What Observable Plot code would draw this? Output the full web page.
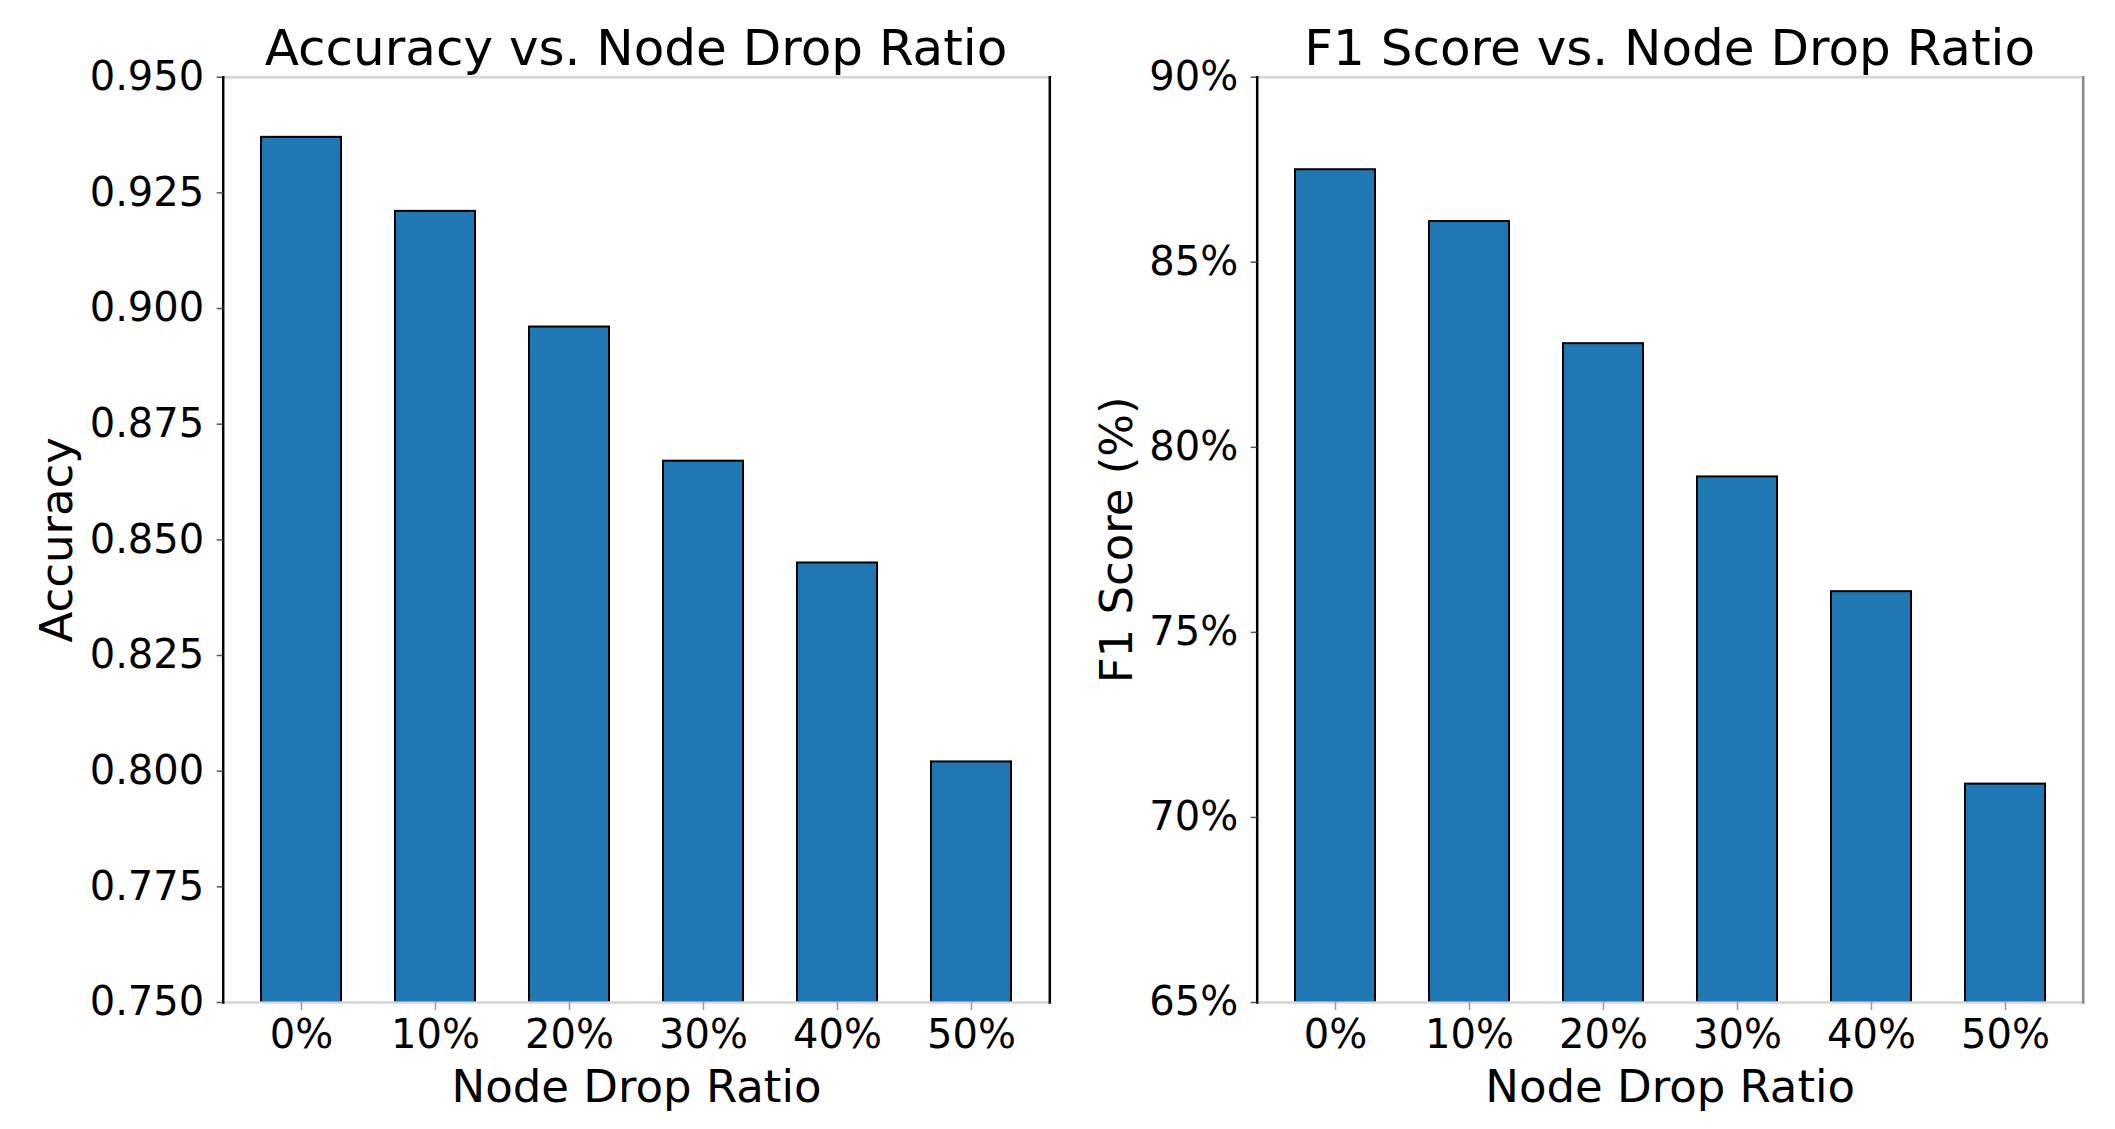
<!DOCTYPE html>
<html>
<head>
<meta charset="utf-8">
<script src="https://cdn.jsdelivr.net/npm/d3@7"></script>
<script src="https://cdn.jsdelivr.net/npm/@observablehq/plot@0.6"></script>
<style>
  html, body { margin: 0; padding: 0; background: #fff; }
  #page { position: relative; width: 2115px; height: 1129px; overflow: hidden; font-family: "DejaVu Sans", sans-serif; }
  .panel { position: absolute; top: 0; height: 1129px; }
  .panel svg { overflow: visible; }
  .title { position: absolute; top: 22.8px; font-size: 50px; line-height: 50px; text-align: center; color: #000; white-space: nowrap; }
</style>
</head>
<body>
<div id="page">
  <div class="panel" id="left" style="left:0;width:1057px;">
    <div class="title" style="left:222.7px;width:826.6px;">Accuracy vs. Node Drop Ratio</div>
  </div>
  <div class="panel" id="right" style="left:1057px;width:1058px;">
    <div class="title" style="left:199.7px;width:826px;">F1 Score vs. Node Drop Ratio</div>
  </div>
</div>
<script>
// ---- data ----
const ratios = ["0%", "10%", "20%", "30%", "40%", "50%"];
const accuracy = [0.937, 0.921, 0.896, 0.867, 0.845, 0.802];
const f1Score = [87.5, 86.1, 82.8, 79.2, 76.1, 70.9];
const accDomain = [0.75, 0.95];
const accTicks = [0.75, 0.775, 0.8, 0.825, 0.85, 0.875, 0.9, 0.925, 0.95];
const f1Domain = [65, 90];
const f1Ticks = [65, 70, 75, 80, 85, 90];

const barColor = "#1f77b4";
const font = "DejaVu Sans";

function panel({values, domain, ticks, tickFormat, yLabel, width, marginLeft, marginRight, labelDx, rightSpine}) {
  const data = ratios.map((r, i) => ({ratio: r, value: values[i]}));
  return Plot.plot({
    width, height: 1129,
    marginLeft, marginRight, marginTop: 76.7, marginBottom: 127,
    style: {fontFamily: font, background: "transparent", color: "#000", overflow: "visible"},
    x: {domain: ratios, paddingInner: 0.4, paddingOuter: 0.275},
    y: {domain},
    marks: [
      Plot.barY(data, {x: "ratio", y1: domain[0], y2: "value", fill: barColor, stroke: "#000", strokeWidth: 2}),
      Plot.frame({anchor: "top", stroke: "#d6d6d6", strokeWidth: 2.5}),
      Plot.frame({anchor: "bottom", stroke: "#d6d6d6", strokeWidth: 2.5}),
      Plot.frame({anchor: "left", stroke: "#000", strokeWidth: 2.5}),
      Plot.frame({anchor: "right", stroke: rightSpine, strokeWidth: 2.5}),
      Plot.axisY({ticks, tickFormat, tickSize: 6, tickPadding: 13, fontSize: 40, label: null, stroke: "#555", strokeWidth: 1.5}),
      Plot.axisX({tickSize: 8, tickPadding: 9, fontSize: 40, label: null, stroke: "#999", strokeWidth: 1.5}),
      Plot.text([yLabel], {frameAnchor: "left", rotate: -90, dx: labelDx, fontSize: 45, lineAnchor: "middle", textAnchor: "middle", fill: "#000"}),
      Plot.text(["Node Drop Ratio"], {frameAnchor: "bottom", dy: 84.6, fontSize: 45, lineAnchor: "middle", textAnchor: "middle", fill: "#000"})
    ]
  });
}

const left = panel({
  values: accuracy, domain: accDomain, ticks: accTicks, tickFormat: d3.format(".3f"),
  yLabel: "Accuracy", width: 1057, marginLeft: 222.7, marginRight: 7.7, labelDx: -166.1, rightSpine: "#000"
});
const right = panel({
  values: f1Score, domain: f1Domain, ticks: f1Ticks, tickFormat: d => d + "%",
  yLabel: "F1 Score (%)", width: 1058, marginLeft: 199.7, marginRight: 32.3, labelDx: -139.4, rightSpine: "#888"
});
document.getElementById("left").prepend(left);
document.getElementById("right").prepend(right);
</script>
</body>
</html>
